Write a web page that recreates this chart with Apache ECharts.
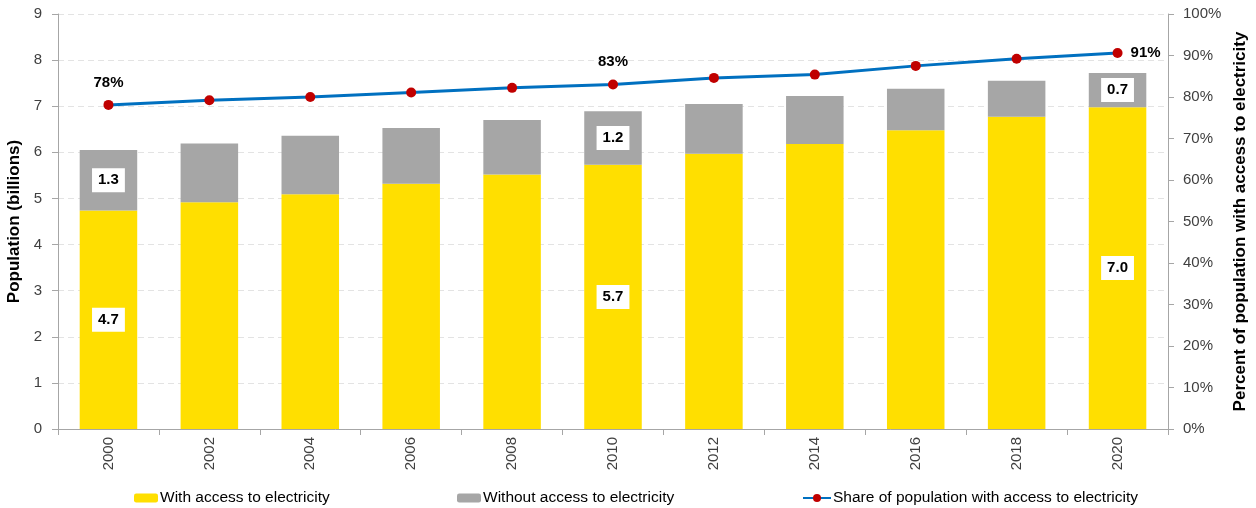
<!DOCTYPE html>
<html>
<head>
<meta charset="utf-8">
<script src="https://cdn.jsdelivr.net/npm/echarts@6/dist/echarts.min.js"></script>
<style>
  html, body { margin: 0; padding: 0; background: #fff; }
  #chart { width: 1256px; height: 508px; }
</style>
</head>
<body>
<div id="chart"></div>
<script>
// World population by electricity access, 2000–2020
const years = ['2000', '2002', '2004', '2006', '2008', '2010', '2012', '2014', '2016', '2018', '2020'];
const withAccess = [4.74, 4.92, 5.09, 5.32, 5.52, 5.73, 5.97, 6.18, 6.48, 6.77, 6.98];
const withoutAccess = [1.31, 1.27, 1.27, 1.21, 1.18, 1.16, 1.08, 1.04, 0.90, 0.78, 0.74];
const sharePct = [78.1, 79.2, 80.0, 81.1, 82.2, 83.0, 84.6, 85.4, 87.5, 89.2, 90.6];
const leftTicks = [0, 9, 1];     // min, max, step (billions)
const rightTicks = [0, 100, 10]; // min, max, step (%)

const labeledBars = [0, 5, 10];
const labeledShare = { 0: 'top', 5: 'top', 10: 'right' };

const FONT = 'Liberation Sans';
const boxLabel = {
  show: true,
  position: 'inside',
  backgroundColor: '#ffffff',
  color: '#000',
  fontWeight: 'bold',
  fontSize: 15,
  fontFamily: FONT,
  padding: [5, 6, 4, 6]
};

function barData(values) {
  return values.map((v, i) => labeledBars.includes(i)
    ? { value: v, label: Object.assign({}, boxLabel, { formatter: () => v.toFixed(1) }) }
    : { value: v });
}

const shareData = sharePct.map((v, i) => labeledShare[i]
  ? { value: v, label: { show: true, position: labeledShare[i], distance: labeledShare[i] === 'top' ? 10 : 8,
      formatter: () => Math.round(v) + '%', color: '#000', fontWeight: 'bold', fontSize: 15, fontFamily: FONT } }
  : { value: v });

const chart = echarts.init(document.getElementById('chart'));
const legendText = { color: '#000', fontSize: 15.5, fontFamily: FONT, padding: [0, 0, 0, -3] };
chart.setOption({
  animation: false,
  grid: { left: 58, right: 88, top: 14, bottom: 79, outerBoundsMode: 'none', containLabel: false },
  legend: [
    { data: ['With access to electricity'], left: 129, top: 485, itemWidth: 24, itemHeight: 9, textStyle: legendText, selectedMode: false },
    { data: ['Without access to electricity'], left: 452, top: 485, itemWidth: 24, itemHeight: 9, textStyle: legendText, selectedMode: false },
    { data: ['Share of population with access to electricity'], left: 797, top: 485, itemWidth: 28, itemHeight: 10, textStyle: legendText, selectedMode: false }
  ],
  xAxis: {
    type: 'category',
    data: years,
    axisLine: { lineStyle: { color: '#a6a6a6', width: 1 } },
    axisTick: { show: true, length: 6, lineStyle: { color: '#a6a6a6' } },
    axisLabel: { rotate: 90, color: '#404040', fontSize: 15, fontFamily: FONT, margin: 8 }
  },
  yAxis: [
    {
      type: 'value', min: leftTicks[0], max: leftTicks[1], interval: leftTicks[2],
      name: 'Population (billions)', nameLocation: 'middle', nameGap: 32,
      nameTextStyle: { color: '#000', fontWeight: 'bold', fontSize: 17, fontFamily: FONT },
      axisLine: { show: true, lineStyle: { color: '#a6a6a6' } },
      axisTick: { show: true, length: 6, lineStyle: { color: '#a6a6a6' } },
      axisLabel: { color: '#404040', fontSize: 15, fontFamily: FONT, margin: 16 },
      splitLine: { show: true, lineStyle: { color: '#e3e3e3', type: [6, 4] } }
    },
    {
      type: 'value', min: rightTicks[0], max: rightTicks[1], interval: rightTicks[2],
      name: 'Percent of population with access to electricity', nameLocation: 'middle', nameGap: 63,
      nameTextStyle: { color: '#000', fontWeight: 'bold', fontSize: 17, fontFamily: FONT },
      axisLine: { show: true, lineStyle: { color: '#a6a6a6' } },
      axisTick: { show: true, length: 6, lineStyle: { color: '#a6a6a6' } },
      axisLabel: { color: '#404040', fontSize: 15, fontFamily: FONT, margin: 15, formatter: '{value}%' },
      splitLine: { show: false }
    }
  ],
  series: [
    {
      name: 'With access to electricity', type: 'bar', stack: 'pop', yAxisIndex: 0,
      barWidth: '57%', itemStyle: { color: '#ffdf00' },
      data: barData(withAccess)
    },
    {
      name: 'Without access to electricity', type: 'bar', stack: 'pop', yAxisIndex: 0,
      barWidth: '57%', itemStyle: { color: '#a6a6a6' },
      data: barData(withoutAccess)
    },
    {
      name: 'Share of population with access to electricity', type: 'line', yAxisIndex: 1,
      symbol: 'circle', symbolSize: 10,
      lineStyle: { color: '#0070c0', width: 3 },
      itemStyle: { color: '#c00000' },
      data: shareData
    }
  ]
});
</script>
</body>
</html>
